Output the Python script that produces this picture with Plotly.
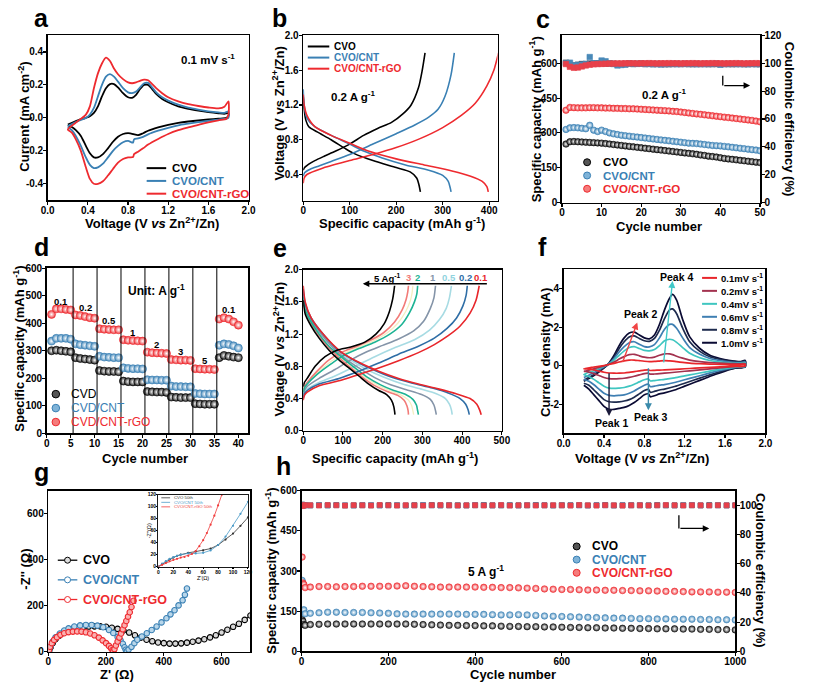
import plotly.graph_objects as go

W, H = 813, 691
FONT = "Liberation Sans, Arial, Helvetica, sans-serif"
K, B, R = "#000000", "#3a80b4", "#ee2a2f"

# ---------------- panel a : CV at 0.1 mV/s ----------------
A_V_UP = [0.2,0.3,0.38,0.42,0.46,0.5,0.54,0.58,0.62,0.66,0.7,0.75,0.8,0.84,0.88,0.92,0.96,1.0,1.04,1.08,1.14,1.2,1.3,1.4,1.5,1.6,1.7,1.76,1.8]
A_V_DN = [1.8,1.78,1.7,1.6,1.5,1.4,1.3,1.2,1.1,1.0,0.95,0.9,0.86,0.85,0.8,0.75,0.7,0.65,0.6,0.55,0.5,0.46,0.42,0.38,0.33,0.28,0.24,0.2]
A_RGO_UP = [-0.07,-0.02,0.02,0.07,0.18,0.27,0.33,0.365,0.345,0.3,0.265,0.235,0.215,0.21,0.215,0.225,0.232,0.228,0.205,0.18,0.15,0.125,0.1,0.083,0.072,0.063,0.058,0.068,0.1]
A_CNT_UP = [-0.05,-0.02,0.0,0.02,0.06,0.13,0.2,0.25,0.265,0.25,0.22,0.18,0.155,0.15,0.16,0.185,0.21,0.212,0.185,0.155,0.125,0.105,0.08,0.062,0.05,0.04,0.033,0.03,0.04]
A_CVO_UP = [-0.04,-0.015,0.0,0.01,0.03,0.07,0.13,0.18,0.205,0.205,0.185,0.15,0.125,0.122,0.14,0.175,0.2,0.2,0.175,0.145,0.115,0.095,0.07,0.055,0.044,0.035,0.028,0.025,0.028]
A_RGO_DN = [0.02,-0.005,-0.015,-0.028,-0.042,-0.058,-0.075,-0.098,-0.128,-0.162,-0.185,-0.205,-0.22,-0.238,-0.24,-0.25,-0.272,-0.31,-0.35,-0.385,-0.4,-0.4,-0.37,-0.3,-0.2,-0.13,-0.09,-0.07]
A_CNT_DN = [0.0,-0.005,-0.01,-0.018,-0.026,-0.035,-0.045,-0.06,-0.078,-0.1,-0.115,-0.125,-0.13,-0.15,-0.14,-0.148,-0.17,-0.2,-0.24,-0.278,-0.3,-0.305,-0.285,-0.24,-0.17,-0.11,-0.075,-0.055]
A_CVO_DN = [0.012,0.0,-0.005,-0.01,-0.016,-0.022,-0.03,-0.042,-0.058,-0.078,-0.093,-0.105,-0.1,-0.098,-0.093,-0.098,-0.115,-0.145,-0.185,-0.22,-0.24,-0.24,-0.215,-0.17,-0.11,-0.075,-0.055,-0.045]

# ---------------- panel b : GCD at 0.2 A/g ----------------
B_CVO_CH_Q = [0,3,12,25,45,70,100,130,160,190,215,232,248,256,262]
B_CVO_CH_V = [0.45,0.48,0.52,0.56,0.61,0.67,0.75,0.85,0.93,1.0,1.1,1.2,1.4,1.6,1.8]
B_CVO_DC_Q = [0,2,6,12,30,60,90,110,150,200,230,244,249,252]
B_CVO_DC_V = [1.3,1.15,1.02,0.95,0.89,0.8,0.7,0.64,0.56,0.48,0.43,0.36,0.28,0.2]
B_CNT_CH_Q = [0,3,15,35,60,100,150,200,240,270,290,305,318,325]
B_CNT_CH_V = [0.38,0.42,0.46,0.5,0.55,0.63,0.75,0.87,0.97,1.06,1.15,1.3,1.55,1.8]
B_CNT_DC_Q = [0,2,8,25,60,100,130,170,220,270,300,312,316,318]
B_CNT_DC_V = [1.38,1.2,1.05,0.95,0.85,0.75,0.67,0.59,0.51,0.45,0.39,0.32,0.25,0.2]
B_RGO_CH_Q = [0,2,8,40,100,150,200,250,300,340,370,395,410,420]
B_RGO_CH_V = [0.3,0.36,0.4,0.47,0.56,0.63,0.71,0.81,0.94,1.08,1.22,1.42,1.6,1.8]
B_RGO_DC_Q = [0,2,8,25,60,100,140,200,260,320,360,385,395,398]
B_RGO_DC_V = [1.32,1.2,1.08,0.95,0.85,0.76,0.67,0.58,0.51,0.44,0.38,0.32,0.26,0.2]

# ---------------- panel c : cycling 0.2 A/g ----------------
C_CYC = list(range(1, 51))
C_CVO = [252,262,263,262,261,260,259,258,257,256,254,252,250,248,246,244,242,240,238,236,234,232,230,228,226,224,222,220,218,216,214,212,210,208,205,203,200,198,196,193,190,188,186,184,182,180,178,176,174,172]
C_CNT = [315,322,323,322,320,318,333,312,306,312,306,300,296,293,290,288,286,284,282,280,278,276,274,272,270,268,266,264,262,260,258,256,255,254,252,250,248,246,245,244,242,240,238,236,234,232,230,228,226,223]
C_RGO = [398,410,409,408,408,408,409,409,408,408,407,407,406,406,405,405,404,404,403,402,401,400,399,398,397,396,395,393,392,390,388,386,384,382,380,378,376,374,372,370,368,366,364,362,360,358,356,354,351,348]
C_CE_CVO = [100.5,99.0,98.5,99.0,99.5,99.5,99.8,100.0,100.0,100.0,99.8,99.8,99.7,99.5,99.5,99.6,99.8,99.6,99.7,99.8,99.6,99.7,99.5,99.6,99.5,99.4,99.4,99.5,99.6,99.5,99.6,99.5,99.4,99.6,99.5,99.6,99.4,99.5,99.5,99.4,99.6,99.5,99.4,99.5,99.6,99.4,99.5,99.6,99.5,99.4]
C_CE_CNT = [100.0,100.5,98.5,98.8,99.0,99.5,104.5,100.0,99.8,102.0,101.5,100.0,99.5,98.5,98.8,99.0,99.8,99.5,99.6,99.7,99.4,99.5,99.3,99.4,99.2,99.4,99.5,99.6,99.4,99.5,99.6,99.5,99.6,99.3,99.5,99.4,99.6,99.5,99.8,99.0,99.4,99.5,99.6,99.5,99.4,99.5,99.3,99.5,99.4,99.5]
C_CE_RGO = [99.5,97.5,96.8,97.0,97.8,98.5,99.0,99.3,99.5,99.6,99.7,99.8,99.8,99.9,99.9,100.0,100.0,100.0,99.9,100.0,100.0,100.1,100.0,99.9,100.0,100.0,100.1,100.0,100.0,99.9,100.0,100.0,100.1,100.0,99.9,100.0,100.0,100.1,100.0,100.0,99.9,100.0,100.0,100.1,100.0,99.9,100.0,100.0,100.1,100.0]

# ---------------- panel d : rate capability ----------------
D_CYC = list(range(1, 41))
D_CVO = [300,302,300,298,296,275,272,270,268,266,228,226,225,225,224,190,188,187,187,187,152,151,150,150,149,132,131,130,130,130,108,107,106,106,106,275,283,280,277,275]
D_CNT = [335,345,345,345,342,325,322,320,318,316,280,277,276,275,275,238,236,235,235,234,195,194,194,193,193,172,170,170,169,169,145,144,143,143,143,320,325,323,318,310]
D_RGO = [432,452,452,450,448,430,428,424,420,418,380,378,377,376,376,340,338,337,336,335,295,293,292,291,290,268,267,266,266,265,235,234,233,233,232,415,420,415,405,393]
D_RATES = ["0.1", "0.2", "0.5", "1", "2", "3", "5", "0.1"]

# ---------------- panel e : GCD at rates ----------------
E_DQ = {
    "0.1": [0,5,20,50,95,140,190,240,290,340,385,420,437,444,448],
    "0.2": [0,5,20,50,88,130,175,225,275,325,365,395,409,415,418],
    "0.5": [0,5,20,45,80,118,160,205,250,295,335,358,368,373,375],
    "1":   [0,5,20,45,75,105,140,180,220,260,298,320,329,333,335],
    "2":   [0,5,20,40,65,95,125,160,195,228,258,276,285,288,290],
    "3":   [0,5,20,40,65,92,120,150,180,210,238,254,261,264,265],
    "5":   [0,5,20,40,65,90,115,140,165,190,210,222,228,230,231],
    "y":   [0,5,20,40,65,93,122,155,188,220,248,265,273,276,278],
}
E_DV = {
    "0.1": [1.8,1.6,1.4,1.2,0.98,0.85,0.74,0.65,0.58,0.52,0.46,0.4,0.33,0.26,0.2],
    "0.2": [1.76,1.58,1.4,1.2,1.0,0.87,0.76,0.66,0.59,0.53,0.47,0.4,0.33,0.26,0.2],
    "0.5": [1.72,1.55,1.38,1.2,1.02,0.88,0.76,0.66,0.58,0.52,0.46,0.4,0.33,0.26,0.2],
    "1":   [1.7,1.55,1.38,1.2,1.03,0.9,0.78,0.66,0.57,0.51,0.45,0.39,0.32,0.25,0.2],
    "2":   [1.66,1.5,1.35,1.2,1.05,0.92,0.8,0.67,0.57,0.5,0.45,0.39,0.32,0.25,0.2],
    "3":   [1.65,1.5,1.33,1.18,1.03,0.9,0.78,0.66,0.56,0.49,0.44,0.38,0.31,0.25,0.2],
    "5":   [1.62,1.45,1.3,1.15,1.0,0.88,0.78,0.68,0.58,0.5,0.45,0.38,0.3,0.24,0.2],
    "y":   [1.65,1.5,1.34,1.19,1.04,0.91,0.79,0.665,0.565,0.495,0.44,0.38,0.31,0.25,0.2],
}
E_CQ = {
    "0.1": [0,3,10,40,90,140,190,240,290,330,365,395,420,435,443],
    "0.2": [0,3,10,40,90,140,190,240,290,330,362,386,402,410,413],
    "0.5": [0,3,10,40,80,130,180,230,280,318,343,360,368,373],
    "1":   [0,3,10,40,80,120,160,200,240,278,303,320,329,333],
    "2":   [0,3,10,35,70,100,140,180,218,248,268,280,286,288],
    "3":   [0,3,10,35,65,95,130,168,203,230,249,259,263,265],
    "5":   [0,3,10,30,55,85,120,155,183,204,217,225,228,230],
    "y":   [0,3,10,35,68,98,135,174,210,238,258,270,274,276],
}
E_CV = {
    "0.1": [0.38,0.44,0.48,0.56,0.62,0.7,0.78,0.87,0.97,1.07,1.18,1.3,1.46,1.62,1.8],
    "0.2": [0.4,0.46,0.5,0.58,0.65,0.74,0.84,0.95,1.05,1.15,1.27,1.4,1.55,1.68,1.8],
    "0.5": [0.42,0.48,0.52,0.6,0.68,0.8,0.92,1.03,1.13,1.25,1.38,1.52,1.65,1.8],
    "1":   [0.45,0.5,0.55,0.65,0.76,0.88,0.98,1.06,1.14,1.24,1.36,1.52,1.65,1.8],
    "2":   [0.48,0.53,0.58,0.7,0.83,0.93,1.02,1.1,1.2,1.32,1.47,1.6,1.7,1.8],
    "3":   [0.5,0.55,0.6,0.74,0.88,0.97,1.04,1.12,1.22,1.35,1.5,1.63,1.72,1.8],
    "5":   [0.55,0.6,0.65,0.8,0.92,1.0,1.04,1.1,1.2,1.33,1.48,1.63,1.72,1.8],
    "y":   [0.49,0.54,0.59,0.72,0.855,0.95,1.03,1.11,1.21,1.335,1.48,1.62,1.71,1.8],
}
E_COL = {"0.1": "#e8262b", "0.2": "#2f6ea6", "0.5": "#a7dbe3", "1": "#8494a8",
         "2": "#1db394", "3": "#f27b78", "5": "#000000", "y": "#f3eec0"}
E_LABEL_Q = {"5": 210, "3": 266, "2": 288, "1": 327, "0.5": 367, "0.2": 409, "0.1": 448}

# ---------------- panel f : CV at scan rates ----------------
F_V_UP = [0.2,0.3,0.4,0.45,0.5,0.55,0.6,0.65,0.7,0.75,0.8,0.85,0.9,0.95,1.0,1.05,1.08,1.12,1.18,1.25,1.35,1.45,1.55,1.65,1.75,1.8]
F_V_DN = [1.8,1.7,1.6,1.5,1.4,1.3,1.2,1.1,1.0,0.95,0.9,0.86,0.84,0.8,0.75,0.7,0.65,0.6,0.55,0.5,0.45,0.4,0.35,0.3,0.25,0.2]
F_RATES = ["0.1", "0.2", "0.4", "0.6", "0.8", "1.0"]
F_UP = {
    "1.0": [-0.8,-0.5,-0.1,0.15,0.55,1.05,1.45,1.7,1.75,1.6,1.45,1.4,1.6,2.15,2.9,3.5,3.7,3.4,2.4,1.5,0.9,0.55,0.38,0.28,0.22,0.28],
    "0.8": [-0.75,-0.45,-0.1,0.12,0.45,0.9,1.25,1.5,1.55,1.42,1.3,1.27,1.42,1.85,2.45,2.9,2.95,2.7,1.95,1.25,0.75,0.47,0.33,0.25,0.2,0.25],
    "0.6": [-0.6,-0.35,-0.05,0.12,0.38,0.72,1.0,1.2,1.25,1.12,1.0,0.98,1.1,1.45,1.9,2.15,2.15,1.95,1.45,0.95,0.6,0.38,0.27,0.2,0.17,0.2],
    "0.4": [-0.45,-0.25,-0.02,0.1,0.3,0.55,0.78,0.95,1.0,0.9,0.8,0.78,0.85,1.05,1.3,1.38,1.35,1.22,0.95,0.65,0.42,0.28,0.2,0.15,0.13,0.15],
    "0.2": [-0.3,-0.15,0.0,0.08,0.2,0.35,0.48,0.58,0.6,0.52,0.45,0.42,0.45,0.55,0.62,0.62,0.58,0.5,0.4,0.3,0.22,0.17,0.14,0.12,0.1,0.12],
    "0.1": [-0.15,-0.06,0.02,0.07,0.13,0.2,0.26,0.3,0.3,0.27,0.24,0.22,0.23,0.25,0.27,0.26,0.25,0.22,0.18,0.14,0.11,0.09,0.08,0.07,0.07,0.08],
}
F_DN = {
    "1.0": [-0.05,-0.12,-0.27,-0.45,-0.65,-0.85,-1.05,-1.25,-1.4,-1.45,-1.55,-1.6,-1.45,-1.5,-1.7,-1.9,-2.05,-2.15,-2.2,-2.25,-2.25,-2.1,-1.8,-1.5,-1.2,-1.0],
    "0.8": [-0.04,-0.1,-0.22,-0.38,-0.55,-0.72,-0.9,-1.07,-1.2,-1.25,-1.32,-1.37,-1.22,-1.28,-1.45,-1.62,-1.75,-1.82,-1.86,-1.88,-1.86,-1.75,-1.5,-1.25,-1.0,-0.9],
    "0.6": [-0.03,-0.08,-0.18,-0.3,-0.44,-0.58,-0.72,-0.86,-0.97,-1.0,-1.05,-1.08,-0.95,-1.0,-1.15,-1.3,-1.42,-1.5,-1.53,-1.55,-1.53,-1.42,-1.2,-0.98,-0.8,-0.7],
    "0.4": [-0.02,-0.06,-0.13,-0.22,-0.32,-0.42,-0.52,-0.62,-0.7,-0.73,-0.76,-0.78,-0.68,-0.72,-0.83,-0.95,-1.05,-1.12,-1.15,-1.17,-1.15,-1.05,-0.88,-0.7,-0.55,-0.45],
    "0.2": [-0.01,-0.04,-0.08,-0.13,-0.18,-0.23,-0.28,-0.33,-0.38,-0.4,-0.42,-0.43,-0.38,-0.4,-0.47,-0.54,-0.6,-0.64,-0.66,-0.67,-0.66,-0.6,-0.5,-0.4,-0.32,-0.27],
    "0.1": [0.0,-0.02,-0.04,-0.06,-0.09,-0.12,-0.15,-0.18,-0.21,-0.22,-0.23,-0.24,-0.21,-0.22,-0.26,-0.3,-0.34,-0.37,-0.38,-0.38,-0.37,-0.33,-0.27,-0.21,-0.17,-0.15],
}
F_COL = {"0.1": "#e8262b", "0.2": "#a3324f", "0.4": "#3fc6c0", "0.6": "#3f7fb2", "0.8": "#1e2b4e", "1.0": "#0a0a33"}

# ---------------- panel g : EIS ----------------
G_CVO_X = [3,8,15,25,38,52,68,85,102,120,140,160,180,200,220,240,260,280,300,320,340,360,380,400,420,440,460,480,500,520,540,560,580,600,620,640,660,680,700]
G_CVO_Y = [6,20,38,55,70,82,92,100,105,108,110,111,111,109,105,100,93,84,72,62,53,46,41,38,36,36,37,40,44,49,55,63,72,84,96,109,122,139,158]
G_CNT_X = [3,8,15,25,40,55,70,90,110,130,150,170,190,210,225,240,250,258,264,268,272,278,288,298,308,324,341,358,375,392,409,423,437,451,465,473,480]
G_CNT_Y = [8,25,45,63,80,93,102,110,115,117,117,114,107,95,82,65,50,35,20,9,3,10,22,38,53,67,81,95,110,128,146,163,181,202,224,248,275]
G_RGO_X = [2,6,12,20,30,42,55,70,85,100,115,130,145,160,175,188,200,210,217,222,225,229,234,240,246,252,258,264,270,276,282,288,295]
G_RGO_Y = [8,22,38,52,64,74,81,86,88,89,88,85,80,72,62,50,38,26,16,8,3,12,28,45,62,80,98,116,134,153,172,195,222]
GI_CVO_X = [0,5,10,15,20,25,30,40,50,60,70,80,90,100,110,120]
GI_CVO_Y = [0,4,8,12,15,18,20,23,25,27,30,36,45,55,68,82]
GI_CNT_X = [0,5,10,15,20,25,30,40,50,60,70,80,90,100,110,120]
GI_CNT_Y = [0,5,9,13,16,18,20,22,22,23,27,36,50,68,88,108]
GI_RGO_X = [0,5,10,15,20,25,30,35,40,45,50,55,60,65,70,75,80,85]
GI_RGO_Y = [0,3,6,9,11,13,15,16,18,21,26,34,44,56,70,85,102,120]

# ---------------- panel h : long cycling 5 A/g ----------------
H_CYC = [1, 3, 5, 8] + list(range(20, 1001, 20))
H_RGO = [352,255,250,238,240,242,242,241,242,242,243,243,243,243,244,245,243,242,241,240,240,240,240,240,239,239,238,238,237,236,235,233,232,231,231,230,229,229,228,228,227,227,226,226,225,224,224,223,222,222,222,221,221,220]
H_CNT = [265,150,155,140,142,144,146,146,145,145,145,144,143,142,140,139,139,139,139,139,139,139,138,138,138,137,136,136,137,136,134,132,131,130,129,128,127,126,125,124,124,123,122,122,121,121,120,120,120,119,119,118,118,117]
H_CVO = [118,112,100,97,100,101,102,102,102,102,102,102,102,102,102,102,101,100,99,98,97,97,96,96,95,95,94,93,93,92,92,91,91,90,89,89,88,88,87,87,86,86,85,85,84,84,84,83,83,82,82,81,81,80]
H_CE_RGO = [99.5,99.8,100.0,100.1,100.1,99.9,100.2,100.0,99.8,100.1,100.0,99.9,100.2,100.0,99.9,100.1,100.0,99.8,100.1,100.2,100.0,99.9,100.0,100.1,99.9,100.0,100.2,99.8,100.0,100.1,99.9,100.0,100.1,100.0,99.9,100.2,100.0,99.9,100.1,100.0,99.8,100.0,100.1,99.9,100.0,100.2,100.0,99.9,100.1,100.0,99.9,100.1,100.0,100.0]
H_CE_CNT = [100.3,99.9,100.1,100.0,100.0,100.2,99.9,100.1,100.0,99.8,100.1,100.2,99.9,100.0,100.1,99.9,100.0,100.2,99.9,100.0,100.1,99.8,100.0,100.2,100.0,99.9,100.1,100.0,99.9,100.2,100.0,100.1,99.9,100.0,100.1,100.0,99.9,100.2,100.0,99.9,100.1,100.0,100.2,99.9,100.0,100.1,99.9,100.0,100.2,100.0,99.9,100.1,100.0,99.9]
H_CE_CVO = [100.6,100.0,99.9,100.1,99.9,100.1,100.0,100.2,99.9,100.0,100.1,99.9,100.0,100.2,100.0,99.9,100.1,100.0,100.2,99.9,100.0,100.1,99.9,100.0,100.2,100.0,99.9,100.1,100.0,99.9,100.2,100.0,99.9,100.1,100.0,100.1,99.9,100.0,100.2,99.9,100.0,100.1,99.9,100.0,100.2,99.9,100.0,100.1,100.0,99.9,100.2,100.0,99.9,100.1]

# =====================================================================
def px(x):
    return x / W


def py(y):
    return 1 - y / H


fig = go.Figure()
shapes, annotations = [], []
layout = dict(width=W, height=H, margin=dict(l=0, r=0, t=0, b=0),
              paper_bgcolor="white", plot_bgcolor="rgba(0,0,0,0)", showlegend=False,
              font=dict(family=FONT, color=K))


def fnt(size, color=K, bold=True):
    return dict(family=FONT, size=size, color=color, weight="bold" if bold else "normal")


def mk_x(name, x0, x1, anchor, rng, tv, tt, fs=10, lw=1.6, tl=3, so=-3):
    layout[name] = dict(domain=[px(x0), px(x1)], anchor=anchor, range=rng, tickvals=tv, ticktext=tt,
                        showline=True, mirror=True, linecolor=K, linewidth=lw, ticks="outside",
                        ticklen=tl, tickwidth=1.1, tickcolor=K, showgrid=False, zeroline=False,
                        tickfont=fnt(fs), fixedrange=True, ticklabelstandoff=so)


def mk_y(name, y0, y1, anchor, rng, tv, tt, fs=10, lw=1.6, tl=3, side="left", overlaying=None, mirror=True, so=-2):
    d = dict(domain=[py(y1), py(y0)], anchor=anchor, range=rng, tickvals=tv, ticktext=tt,
             showline=True, mirror=mirror, linecolor=K, linewidth=lw, ticks="outside",
             ticklen=tl, tickwidth=1.1, tickcolor=K, showgrid=False, zeroline=False,
             tickfont=fnt(fs), fixedrange=True, side=side, ticklabelstandoff=so)
    if overlaying:
        d["overlaying"] = overlaying
    layout[name] = d


def line(x, y, color, xa, ya, width=1.8, shape="spline"):
    fig.add_trace(go.Scatter(x=x, y=y, mode="lines", xaxis=xa, yaxis=ya, hoverinfo="skip",
                             line=dict(color=color, width=width, shape=shape, smoothing=0.7)))


def dots(x, y, color, xa, ya, size=7, symbol="circle", grad=True, lc=None):
    m = dict(color=color, size=size, symbol=symbol, line=dict(color=lc or color, width=0.6))
    if grad:
        m["gradient"] = dict(type="radial", color="#ffffff")
    fig.add_trace(go.Scatter(x=x, y=y, mode="markers", xaxis=xa, yaxis=ya, hoverinfo="skip", marker=m))


def ptext(x, y, s, size=12, color=K, xanchor="left", angle=0, bold=True):
    annotations.append(dict(xref="paper", yref="paper", x=px(x), y=py(y), text=s, showarrow=False,
                            xanchor=xanchor, yanchor="middle", textangle=angle, font=fnt(size, color, bold)))


def dtext(xr, yr, x, y, s, size=11, color=K, xanchor="center"):
    annotations.append(dict(xref=xr, yref=yr, x=x, y=y, text=s, showarrow=False, xanchor=xanchor,
                            yanchor="middle", font=fnt(size, color)))


def arrow(xr, yr, x0, y0, x1, y1, color=K, width=1.3, head=2, size=1.0):
    annotations.append(dict(xref=xr, yref=yr, axref=xr, ayref=yr, ax=x0, ay=y0, x=x1, y=y1, text="",
                            showarrow=True, arrowhead=head, arrowsize=size, arrowwidth=width, arrowcolor=color))


def leg_line(x0, x1, y, color, width=2.0):
    shapes.append(dict(type="line", xref="paper", yref="paper", x0=px(x0), x1=px(x1), y0=py(y), y1=py(y),
                       line=dict(color=color, width=width)))


def leg_dot(x, y, color, fill, r=3.5):
    shapes.append(dict(type="circle", xref="paper", yref="paper", xsizemode="pixel", ysizemode="pixel",
                       xanchor=px(x), yanchor=py(y), x0=-r, x1=r, y0=-r, y1=r, fillcolor=fill,
                       line=dict(color=color, width=1)))


MAT = [("CVO", K), ("CVO/CNT", B), ("CVO/CNT-rGO", R)]
FILL = {K: "#555555", B: "#7fb3d8", R: "#f57c7c"}

# ---------------- a ----------------
mk_x("xaxis", 41.7, 247.3, "y", [0, 2.0], [0, 0.4, 0.8, 1.2, 1.6, 2.0], ["0.0", "0.4", "0.8", "1.2", "1.6", "2.0"])
mk_y("yaxis", 30, 197.7, "x", [-0.5, 0.5], [-0.4, -0.2, 0, 0.2, 0.4], ["-0.4", "-0.2", "0.0", "0.2", "0.4"])
for up, dn, c in [(A_CVO_UP, A_CVO_DN, K), (A_CNT_UP, A_CNT_DN, B), (A_RGO_UP, A_RGO_DN, R)]:
    line(A_V_UP + A_V_DN, up + dn, c, "x", "y", 1.8)
dtext("x", "y", 1.6, 0.36, "0.1 mV s<sup>-1</sup>", 11.5)
for i, (n, c) in enumerate(MAT):
    leg_line(143, 163, 165 + 13 * i, c)
    ptext(167, 165 + 13 * i, n, 11.5, c)

# ---------------- b ----------------
mk_x("xaxis2", 303.3, 502.3, "y2", [0, 418], [0, 100, 200, 300, 400], ["0", "100", "200", "300", "400"])
mk_y("yaxis2", 30, 198, "x2", [0.1, 2.0], [0.4, 0.8, 1.2, 1.6, 2.0], ["0.4", "0.8", "1.2", "1.6", "2.0"])
for q, v, c in [(B_CVO_CH_Q, B_CVO_CH_V, K), (B_CVO_DC_Q, B_CVO_DC_V, K), (B_CNT_CH_Q, B_CNT_CH_V, B),
                (B_CNT_DC_Q, B_CNT_DC_V, B), (B_RGO_CH_Q, B_RGO_CH_V, R), (B_RGO_DC_Q, B_RGO_DC_V, R)]:
    line(q, v, c, "x2", "y2", 1.6)
dtext("x2", "y2", 108, 1.3, "0.2 A g<sup>-1</sup>", 11.5)
for i, (n, c) in enumerate(MAT):
    leg_line(308, 330, 41.2 + 11.3 * i, c)
    ptext(333, 41.2 + 11.3 * i, n, 10, c)

# ---------------- c ----------------
mk_x("xaxis3", 568.3, 771, "y3", [0, 50], [0, 10, 20, 30, 40, 50], ["0", "10", "20", "30", "40", "50"])
mk_y("yaxis3", 30, 200, "x3", [0, 720], [0, 150, 300, 450, 600], ["0", "150", "300", "450", "600"], mirror=False)
mk_y("yaxis4", 30, 200, "x3", [0, 120], [0, 20, 40, 60, 80, 100, 120],
     ["0", "20", "40", "60", "80", "100", "120"], side="right", overlaying="y3", mirror=False)
dots(C_CYC, C_CE_CVO, "#3c4a5a", "x3", "y4", 5.5, "square", False)
dots(C_CYC, C_CE_CNT, "#4a8ab8", "x3", "y4", 5.5, "square", False)
dots(C_CYC, C_CE_RGO, "#e8404a", "x3", "y4", 5.5, "square", False)
dots(C_CYC, C_CVO, "#222222", "x3", "y3", 6.5, lc=K)
dots(C_CYC, C_CNT, "#4a8cbc", "x3", "y3", 6.5, lc=B)
dots(C_CYC, C_RGO, "#ee3a3f", "x3", "y3", 6.5, lc=R)
dtext("x3", "y3", 25.8, 466, "0.2 A g<sup>-1</sup>", 11.5)
shapes.append(dict(type="line", xref="x3", yref="y3", x0=40.6, x1=40.6, y0=546, y1=504, line=dict(color=K, width=1.3)))
arrow("x3", "y3", 40.6, 504, 47.5, 504)
for i, (n, c) in enumerate(MAT):
    leg_dot(594, 159 + 13.5 * i, c, FILL[c])
    ptext(608, 159 + 13.5 * i, n, 11.5, c)

# ---------------- d ----------------
mk_x("xaxis4", 40.7, 246.7, "y5", [0, 42], [0, 5, 10, 15, 20, 25, 30, 35, 40],
     ["0", "5", "10", "15", "20", "25", "30", "35", "40"])
mk_y("yaxis5", 266.7, 435, "x4", [0, 600], [0, 100, 200, 300, 400, 500, 600],
     ["0", "100", "200", "300", "400", "500", "600"])
for k in range(1, 8):
    xs = D_CYC[5 * k - 1] + 0.5
    shapes.append(dict(type="line", xref="x4", yref="y5 domain", x0=xs, x1=xs, y0=0, y1=1,
                       line=dict(color=K, width=1)))
dots(D_CYC, D_CVO, "#222222", "x4", "y5", 8, lc=K)
dots(D_CYC, D_CNT, "#4a8cbc", "x4", "y5", 8, lc=B)
dots(D_CYC, D_RGO, "#ee3a3f", "x4", "y5", 8, lc=R)
for k, lab in enumerate(D_RATES):
    grp = D_RGO[5 * k:5 * k + 5]
    dtext("x4", "y5", D_CYC[5 * k + 2], max(grp) + 28, lab, 9.5)
dtext("x4", "y5", 23, 521, "Unit: A g<sup>-1</sup>", 12)
for i, (n, c) in enumerate(MAT):
    leg_dot(50, 395 + 14.2 * i, c, FILL[c], 3.8)
    ptext(63, 395 + 14.2 * i, n.replace("CVO", "CVD"), 12, c, bold=False)

# ---------------- e ----------------
mk_x("xaxis5", 303.3, 506.7, "y6", [0, 500], [0, 100, 200, 300, 400, 500], ["0", "100", "200", "300", "400", "500"])
mk_y("yaxis6", 268.3, 432.3, "x5", [0, 2.0], [0, 0.4, 0.8, 1.2, 1.6, 2.0], ["0.0", "0.4", "0.8", "1.2", "1.6", "2.0"])
for nm in ["y", "0.5", "1", "3", "2", "0.2", "0.1", "5"]:
    w = 1.3 if nm == "y" else 1.6
    line(E_DQ[nm], E_DV[nm], E_COL[nm], "x5", "y6", w)
    line(E_CQ[nm], E_CV[nm], E_COL[nm], "x5", "y6", w)
arrow("x5", "y6", 466, 1.825, 150, 1.825, K, 1.3)
for nm, q in E_LABEL_Q.items():
    lab = "5 Ag<sup>-1</sup>" if nm == "5" else nm
    col = E_COL[nm]
    if nm == "0.5":
        col = "#8fd3de"
    dtext("x5", "y6", q, 1.9, lab, 9.5, col)

# ---------------- f ----------------
mk_x("xaxis6", 570, 776.5, "y7", [0, 2.0], [0, 0.4, 0.8, 1.2, 1.6, 2.0], ["0.0", "0.4", "0.8", "1.2", "1.6", "2.0"])
mk_y("yaxis7", 268, 435, "x6", [-3.5, 5], [-2, 0, 2, 4], ["-2", "0", "2", "4"])
for r in ["1.0", "0.8", "0.6", "0.4", "0.2", "0.1"]:
    line(F_V_UP + F_V_DN, F_UP[r] + F_DN[r], F_COL[r], "x6", "y7", 1.7)
arrow("x6", "y7", 0.58, 0.12, 0.73, 2.25, "#f04545", 1.4)
arrow("x6", "y7", 0.99, 0.1, 1.08, 4.4, "#3fc8c8", 1.4)
arrow("x6", "y7", 0.45, -0.3, 0.45, -2.6, "#1a1a3a", 1.4)
arrow("x6", "y7", 0.84, -0.05, 0.84, -2.3, "#3a8aaa", 1.4)
dtext("x6", "y7", 0.76, 2.68, "Peak 2", 10.5)
dtext("x6", "y7", 1.12, 4.62, "Peak 4", 10.5)
dtext("x6", "y7", 0.47, -2.95, "Peak 1", 10.5)
dtext("x6", "y7", 0.86, -2.65, "Peak 3", 10.5)
for i, r in enumerate(F_RATES):
    yy = 276.7 + 13.2 * i
    leg_line(711.7, 727, yy, F_COL[r], 2.0)
    ptext(729, yy, r + "mV s<sup>-1</sup>", 9.5)

# ---------------- g ----------------
mk_x("xaxis7", 42.3, 249.3, "y8", [0, 700], [0, 200, 400, 600], ["0", "200", "400", "600"])
mk_y("yaxis8", 493.3, 657.3, "x7", [0, 700], [0, 200, 400, 600], ["0", "200", "400", "600"])
for gx, gy, c, f in [(G_CVO_X, G_CVO_Y, K, "#d8d8d8"), (G_CNT_X, G_CNT_Y, B, "#b8d6ea"), (G_RGO_X, G_RGO_Y, R, "#fbb0b0")]:
    fig.add_trace(go.Scatter(x=gx, y=gy, mode="lines+markers", xaxis="x7", yaxis="y8", hoverinfo="skip",
                             line=dict(color=c, width=1.1),
                             marker=dict(size=5.5, color=f, line=dict(color=c, width=1.1))))
for i, (n, c) in enumerate(MAT):
    yy = 564 + 20 * i
    leg_line(52, 72, yy, c, 1.3)
    leg_dot(62, yy, c, "#ffffff" if c != K else "#dddddd", 3)
    ptext(76, yy, n, 12.5, c)
# inset
mk_x("xaxis8", 155, 246.7, "y9", [0, 120], [0, 20, 40, 60, 80, 100, 120],
     ["0", "20", "40", "60", "80", "100", "120"], fs=5, lw=0.9, tl=1.5, so=-1)
mk_y("yaxis9", 497.3, 570.5, "x8", [0, 120], [0, 20, 40, 60, 80, 100, 120],
     ["0", "20", "40", "60", "80", "100", "120"], fs=5, lw=0.9, tl=1.5, so=-1)
for gx, gy, c in [(GI_CVO_X, GI_CVO_Y, "#333333"), (GI_CNT_X, GI_CNT_Y, "#4a9ac8"), (GI_RGO_X, GI_RGO_Y, "#f03c3c")]:
    fig.add_trace(go.Scatter(x=gx, y=gy, mode="lines+markers", xaxis="x8", yaxis="y9", hoverinfo="skip",
                             line=dict(color=c, width=0.8), marker=dict(size=2.2, color=c)))
for i, (n, c) in enumerate([("CVO 50th", "#333333"), ("CVO/CNT 50th", "#4a9ac8"), ("CVO/CNT-rGO 50th", "#f03c3c")]):
    yy = 500.5 + 4.6 * i
    leg_line(158, 167, yy, c, 0.8)
    ptext(168.5, yy, n, 4.3, c, bold=False)
ptext(200.8, 582, "Z'(Ω)", 5.5, K, "center", bold=False)
ptext(145, 534, "-Z''(Ω)", 5.5, K, "center", -90, bold=False)

# ---------------- h ----------------
mk_x("xaxis9", 301.7, 745.7, "y10", [0, 1000], [0, 200, 400, 600, 800, 1000],
     ["0", "200", "400", "600", "800", "1000"])
mk_y("yaxis10", 493.3, 656.7, "x9", [0, 600], [0, 150, 300, 450, 600], ["0", "150", "300", "450", "600"], mirror=False)
mk_y("yaxis11", 493.3, 656.7, "x9", [0, 110], [0, 20, 40, 60, 80, 100], ["0", "20", "40", "60", "80", "100"],
     side="right", overlaying="y10", mirror=False)
dots(H_CYC, H_CE_CVO, "#3c4a5a", "x9", "y11", 5, "square", False)
dots(H_CYC, H_CE_CNT, "#4a8ab8", "x9", "y11", 5, "square", False)
dots(H_CYC, H_CE_RGO, "#e8404a", "x9", "y11", 5, "square", False)
dots(H_CYC, H_CVO, "#333333", "x9", "y10", 6.5, lc=K)
dots(H_CYC, H_CNT, "#5a98c4", "x9", "y10", 6.5, lc=B)
dots(H_CYC, H_RGO, "#f04a4f", "x9", "y10", 6.5, lc=R)
dtext("x9", "y10", 425, 300, "5 A g<sup>-1</sup>", 12)
shapes.append(dict(type="line", xref="x9", yref="y10", x0=870, x1=870, y0=508, y1=459, line=dict(color=K, width=1.3)))
arrow("x9", "y10", 870, 459, 940, 459)
for i, (n, c) in enumerate(MAT):
    leg_dot(583.3, 550 + 13.4 * i, c, FILL[c])
    ptext(597, 550 + 13.4 * i, n, 12, c)

# ---------------- axis titles ----------------
TS = 13
VS = "Voltage (V <i>vs</i> Zn<sup>2+</sup>/Zn)"
SC = "Specific capacity (mAh g<sup>-1</sup>)"
ptext(148, 221, VS, TS, K, "center")
ptext(17, 113, "Current (mA cm<sup>-2</sup>)", TS, K, "center", -90)
ptext(404, 221, SC, TS, K, "center")
ptext(278, 110, "Voltage (V vs Zn<sup>2+</sup>/Zn)", TS, K, "center", -90)
ptext(668, 224, "Cycle number", TS, K, "center")
ptext(541, 115, SC, TS, K, "center", -90)
ptext(802, 115, "Coulombic efficiency (%)", TS, K, "center", 90)
ptext(141, 460, "Cycle number", TS, K, "center")
ptext(12, 349, SC, TS, K, "center", -90)
ptext(397, 460, SC, TS, K, "center")
ptext(278, 350, "Voltage (V <i>vs</i> Zn<sup>2+</sup>/Zn)", TS, K, "center", -90)
ptext(650, 460, VS, TS, K, "center")
ptext(552, 353, "Current density (mA)", TS, K, "center", -90)
ptext(113, 680, "Z' (Ω)", TS, K, "center")
ptext(18, 573, "-Z'' (Ω)", TS, K, "center", -90)
ptext(518, 680, "Cycle number", TS, K, "center")
ptext(270, 575, SC, TS, K, "center", -90)
ptext(772, 575, "Coulombic efficiency (%)", TS, K, "center", 90)

# ---------------- panel letters ----------------
for lt, x, y in [("a", 35, 12), ("b", 279, 12), ("c", 549, 13), ("d", 35, 245), ("e", 280, 246),
                 ("f", 548, 245), ("g", 35, 474), ("h", 283, 468)]:
    ptext(x, y, lt, 25, K, "center")

layout["shapes"] = shapes
layout["annotations"] = annotations
fig.update_layout(**layout)
fig.write_html("out.html", config={"displayModeBar": False, "staticPlot": True},
               post_script="document.body.style.margin='0px';document.body.style.overflow='hidden';")
